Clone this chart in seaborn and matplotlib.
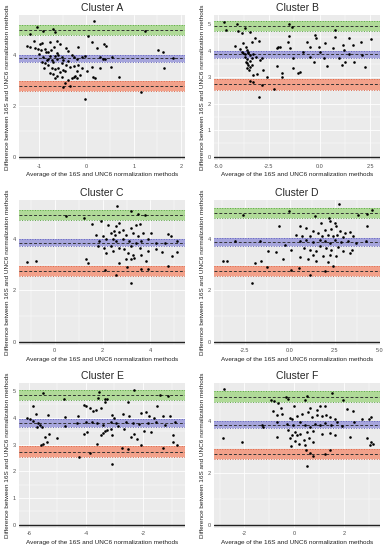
import matplotlib.pyplot as plt
import seaborn as sns
import numpy as np
import pandas as pd
from matplotlib.ticker import AutoMinorLocator

# (average, difference) pairs
cluster_a = [(0.16, 5.36), (-1.04, 5.13), (-0.71, 5.04), (-0.92, 4.97), (-0.66, 4.93), (-1.18, 4.84),
             (0.03, 4.75), (1.24, 4.97), (-1.11, 4.57), (-0.63, 4.57), (-0.94, 4.49), (-0.98, 4.43),
             (-0.77, 4.54), (0.11, 4.51), (-1.25, 4.37), (-1.19, 4.34), (0.38, 4.43), (0.41, 4.37),
             (0.22, 4.30), (-1.08, 4.28), (-1.03, 4.25), (-0.96, 4.22), (-0.87, 4.25), (-0.68, 4.33),
             (-0.42, 4.28), (-0.80, 4.14), (-0.75, 4.21), (-0.85, 4.11), (-0.17, 4.34), (-0.38, 4.17),
             (1.51, 4.21), (1.63, 4.14), (1.65, 3.51), (-0.63, 4.08), (-0.59, 4.01), (-0.66, 3.95),
             (-0.77, 3.95), (-0.80, 3.86), (-0.73, 3.80), (-0.31, 4.01), (-0.25, 3.92), (-0.20, 3.86),
             (-0.10, 3.91), (-0.03, 3.95), (0.29, 3.91), (0.36, 3.87), (0.54, 3.91), (-0.94, 3.75),
             (-0.87, 3.68), (-0.80, 3.62), (-0.52, 3.68), (-0.42, 3.62), (-0.34, 3.55), (-0.27, 3.59),
             (-0.73, 3.49), (-0.66, 3.46), (-0.59, 3.51), (-0.49, 3.42), (-0.45, 3.36), (-0.77, 3.29),
             (-0.70, 3.25), (-0.63, 3.20), (-0.17, 3.62), (-0.10, 3.49), (0.11, 3.55), (0.29, 3.51),
             (0.52, 3.53), (0.15, 3.16), (0.18, 3.09), (-0.52, 3.16), (-0.27, 3.16), (-0.24, 3.20),
             (-0.31, 3.09), (0.68, 3.16), (-0.45, 2.89), (-0.49, 2.76), (-0.34, 2.78), (1.16, 2.57),
             (-0.03, 2.28), (-0.56, 4.43), (-1.00, 4.04), (-0.91, 3.91), (-0.84, 3.82), (-0.70, 3.75),
             (-0.63, 3.84), (-0.52, 3.91), (-0.49, 3.82), (-0.38, 3.78), (-0.89, 3.49), (-0.56, 3.33),
             (-0.20, 3.36), (-0.13, 3.22), (0.01, 3.36), (-0.38, 3.03), (-0.20, 3.12), (-0.66, 3.09),
             (0.39, 3.86), (1.83, 3.90)]

cluster_b = [(-4.72, 5.09), (-4.59, 4.78), (-4.09, 4.99), (-3.68, 4.84), (-4.01, 4.74), (-3.84, 4.65),
             (-3.43, 4.72), (-1.53, 4.99), (-1.37, 4.91), (0.78, 4.78), (-4.17, 4.19), (-3.76, 4.28),
             (-3.63, 4.15), (-3.35, 4.34), (-3.18, 4.47), (-2.97, 4.36), (-3.93, 4.05), (-3.84, 3.96),
             (-3.76, 3.92), (-3.60, 4.03), (-3.51, 3.90), (-3.43, 3.84), (-3.35, 3.74), (-3.27, 3.86),
             (-3.68, 3.77), (-3.56, 3.69), (-3.14, 3.77), (-2.94, 3.65), (-2.85, 3.74), (-2.11, 4.09),
             (-2.03, 4.13), (-1.95, 4.15), (-1.58, 4.34), (-1.50, 4.57), (-1.45, 4.09), (-0.82, 3.96),
             (-1.29, 3.71), (-2.11, 3.43), (-1.86, 3.14), (-1.32, 3.33), (-1.04, 3.14), (-0.96, 3.21),
             (-1.83, 3.02), (-3.60, 3.52), (-3.51, 3.46), (-3.43, 3.40), (-3.56, 3.33), (-3.47, 3.27),
             (-3.35, 3.46), (-3.27, 3.08), (-3.10, 3.11), (-2.77, 3.27), (-2.61, 3.02), (-3.43, 2.87),
             (-3.30, 2.83), (-2.85, 2.70), (-2.23, 2.55), (-2.97, 2.25), (-0.63, 4.34), (-0.21, 4.59),
             (-0.16, 4.47), (-0.46, 4.15), (-0.05, 4.15), (0.28, 4.28), (0.03, 3.96), (-0.46, 3.77),
             (-0.30, 3.58), (0.36, 3.43), (0.20, 3.71), (0.78, 4.53), (0.66, 4.11), (1.16, 4.21),
             (1.44, 4.49), (1.19, 4.03), (0.94, 3.71), (1.11, 3.46), (1.27, 3.56), (1.63, 4.21),
             (2.06, 4.34), (2.51, 4.43), (1.72, 3.58), (2.22, 3.40), (2.08, 3.84), (1.44, 3.86),
             (-3.70, 3.88), (-3.55, 3.95), (-3.45, 3.62), (-3.62, 3.58)]

cluster_c = [(2.60, 5.33), (-1.16, 3.13), (-0.77, 3.15), (0.48, 4.91), (1.22, 4.84), (3.20, 5.10),
             (3.48, 5.01), (3.76, 4.97), (1.58, 4.62), (1.93, 4.71), (2.21, 4.58), (2.56, 4.52),
             (2.67, 4.65), (3.41, 4.58), (3.58, 4.62), (3.20, 4.45), (2.84, 4.39), (2.49, 4.32),
             (1.72, 4.19), (2.00, 4.13), (2.35, 4.26), (2.53, 4.19), (2.70, 4.28), (2.98, 4.19),
             (3.26, 4.26), (3.48, 4.13), (3.68, 4.26), (4.04, 4.26), (4.74, 4.22), (4.84, 4.13),
             (1.86, 3.93), (2.14, 4.00), (2.42, 4.02), (2.56, 3.93), (2.84, 4.02), (3.12, 3.93),
             (3.41, 3.87), (3.62, 3.93), (3.90, 4.00), (4.25, 3.87), (4.60, 3.87), (5.12, 3.93),
             (1.79, 3.74), (2.07, 3.67), (2.35, 3.76), (2.70, 3.67), (2.91, 3.61), (3.20, 3.74),
             (3.55, 3.67), (3.90, 3.54), (4.25, 3.61), (4.46, 3.50), (2.14, 3.48), (2.42, 3.54),
             (3.05, 3.48), (3.26, 3.41), (3.33, 3.28), (3.19, 3.22), (3.62, 3.41), (4.88, 3.37),
             (5.09, 3.50), (1.30, 3.22), (1.41, 3.09), (2.70, 3.09), (2.98, 3.24), (3.83, 3.15),
             (4.74, 2.96), (2.11, 2.79), (3.02, 2.93), (3.62, 2.85), (2.56, 2.59), (3.19, 2.28),
             (3.90, 2.83)]

cluster_d = [(2.74, 5.35), (4.57, 5.14), (4.31, 4.99), (-0.06, 5.08), (-2.59, 4.92), (1.43, 4.88),
             (3.83, 4.92), (-0.59, 4.49), (0.56, 4.52), (0.93, 4.43), (1.76, 4.62), (2.19, 4.82),
             (2.26, 4.69), (2.50, 4.62), (2.59, 4.49), (1.94, 4.36), (2.31, 4.39), (2.78, 4.30),
             (3.06, 4.23), (3.33, 4.26), (4.30, 4.49), (0.33, 4.17), (0.70, 4.13), (1.11, 4.10),
             (1.30, 4.30), (1.57, 4.23), (1.81, 4.13), (2.13, 4.17), (2.41, 4.10), (2.63, 4.17),
             (2.96, 4.08), (3.52, 4.10), (0.56, 3.91), (0.93, 3.95), (1.30, 3.87), (1.67, 3.97),
             (1.94, 3.91), (2.22, 3.84), (2.50, 3.95), (2.87, 3.87), (3.24, 3.91), (3.70, 3.84),
             (4.26, 3.91), (-3.06, 3.91), (-1.67, 3.91), (-0.28, 3.78), (-1.20, 3.52), (-0.74, 3.48),
             (0.09, 3.55), (0.78, 3.65), (1.11, 3.58), (1.48, 3.52), (1.67, 3.71), (2.04, 3.65),
             (2.31, 3.58), (2.69, 3.69), (2.96, 3.52), (3.33, 3.45), (3.48, 3.58), (1.30, 3.39),
             (1.85, 3.35), (2.22, 3.39), (2.59, 3.32), (0.56, 3.29), (1.02, 3.22), (1.48, 3.13),
             (2.13, 3.09), (-0.37, 3.22), (-1.57, 3.13), (-1.94, 3.06), (-3.70, 3.15), (-3.48, 3.13),
             (-1.26, 2.89), (0.09, 2.80), (0.52, 2.86), (1.94, 2.76), (2.41, 2.93), (1.11, 2.58),
             (-2.09, 2.29)]

cluster_e = [(-2.30, 5.04), (-5.52, 4.92), (-3.54, 4.97), (-4.78, 4.72), (-3.57, 4.76), (-3.33, 4.72),
             (-1.41, 4.85), (-1.12, 4.82), (-5.85, 4.45), (-4.07, 4.48), (-3.99, 4.43), (-3.87, 4.35),
             (-3.76, 4.27), (-3.64, 4.31), (-3.33, 4.58), (-3.25, 4.70), (-3.48, 4.35), (-2.54, 4.58),
             (-1.51, 4.45), (-5.76, 4.15), (-6.08, 4.00), (-5.96, 3.96), (-5.85, 3.90), (-5.34, 4.11),
             (-4.72, 4.02), (-4.27, 4.05), (-3.07, 4.11), (-3.01, 3.99), (-2.71, 4.15), (-2.48, 4.06),
             (-2.06, 4.18), (-1.89, 4.23), (-1.79, 4.08), (-1.63, 3.99), (-1.30, 4.06), (-1.04, 4.08),
             (-5.69, 3.81), (-5.61, 3.74), (-5.55, 3.65), (-5.73, 3.65), (-4.72, 3.71), (-4.31, 3.81),
             (-4.01, 3.86), (-3.78, 3.84), (-3.60, 3.81), (-3.40, 3.74), (-3.13, 3.84), (-2.95, 3.81),
             (-2.60, 3.86), (-2.36, 3.81), (-2.15, 3.78), (-1.83, 3.81), (-1.53, 3.84), (-1.24, 3.74),
             (-0.88, 3.86), (-5.31, 3.41), (-5.43, 3.28), (-5.02, 3.25), (-5.57, 3.00), (-5.49, 3.04),
             (-5.37, 3.10), (-4.05, 3.41), (-3.95, 3.47), (-3.48, 3.35), (-3.40, 3.44), (-3.33, 3.49),
             (-3.25, 3.53), (-3.13, 3.59), (-3.60, 3.04), (-3.07, 3.35), (-2.89, 3.71), (-2.66, 3.59),
             (-2.42, 3.28), (-2.30, 3.41), (-2.22, 3.22), (-1.95, 3.49), (-1.71, 3.47), (-0.94, 3.35),
             (-0.94, 3.10), (-0.80, 3.00), (-2.74, 2.88), (-2.06, 2.98), (-1.30, 2.88), (-4.25, 2.55),
             (-3.84, 2.67), (-3.10, 2.26), (-2.54, 2.85)]

cluster_f = [(-2.83, 5.22), (-2.86, 3.33), (-2.09, 3.18), (-0.93, 4.79), (-0.81, 4.75), (-0.63, 4.67),
             (-0.32, 4.92), (-0.23, 4.82), (0.44, 4.79), (0.51, 4.94), (1.52, 5.04), (1.99, 4.79),
             (-0.53, 4.47), (-0.84, 4.38), (0.00, 4.57), (0.65, 4.50), (0.94, 4.42), (1.05, 4.54),
             (1.25, 4.57), (2.15, 4.44), (2.37, 4.38), (-0.67, 4.21), (-0.50, 4.25), (-0.16, 4.09),
             (-0.09, 4.06), (0.11, 4.19), (0.31, 4.25), (0.58, 4.31), (0.71, 4.13), (0.92, 4.21),
             (1.12, 4.16), (1.29, 4.21), (1.45, 4.13), (1.66, 4.06), (2.73, 4.06), (3.10, 4.13),
             (3.00, 4.04), (-1.31, 3.84), (-1.24, 3.75), (-0.70, 3.96), (-0.30, 3.87), (-0.03, 3.81),
             (0.24, 3.94), (0.44, 3.84), (0.65, 3.75), (0.85, 3.87), (1.05, 3.81), (1.25, 3.91),
             (1.48, 3.84), (1.72, 3.94), (1.93, 3.79), (2.40, 3.94), (-0.23, 3.62), (0.04, 3.56),
             (0.24, 3.50), (-0.09, 3.46), (0.13, 3.43), (0.51, 3.56), (0.78, 3.58), (1.12, 3.50),
             (1.45, 3.53), (1.66, 3.46), (-0.70, 3.37), (-0.16, 3.31), (0.04, 3.21), (0.18, 3.08),
             (0.38, 3.25), (0.62, 3.31), (0.78, 3.18), (0.44, 3.06), (-0.12, 3.02), (2.24, 3.37),
             (2.92, 3.31), (3.10, 3.16), (3.05, 3.06), (3.18, 3.08), (0.48, 2.87), (0.65, 2.74),
             (0.78, 2.62), (1.25, 2.70), (1.45, 2.87), (0.51, 2.26)]

clusters = [cluster_a, cluster_b, cluster_c, cluster_d, cluster_e, cluster_f]
titles = ['Cluster A', 'Cluster B', 'Cluster C', 'Cluster D', 'Cluster E', 'Cluster F']

# mean difference and limits of agreement for each cluster
bias = [3.88, 3.86, 3.87, 3.88, 3.80, 3.84]
upper_loa = [5.00, 4.93, 4.97, 5.00, 4.85, 4.92]
lower_loa = [2.79, 2.73, 2.76, 2.76, 2.73, 2.72]
bias_ci = 0.14
loa_ci = 0.20

x_ticks = [[-1, 0, 1, 2], [-5, -2.5, 0, 2.5], [0, 2, 4], [-2.5, 0, 2.5, 5], [-6, -4, -2], [-2, 0, 2]]
x_labels = [['-1', '0', '1', '2'], ['-5.0', '-2.5', '0.0', '2.5'], ['0', '2', '4'],
            ['-2.5', '0.0', '2.5', '5.0'], ['-6', '-4', '-2'], ['-2', '0', '2']]
y_ticks = [[0, 2, 4], [0, 1, 2, 3, 4, 5], [0, 2, 4], [0, 2, 4], [0, 1, 2, 3, 4, 5], [0, 2, 4]]
x_lims = [(-1.42, 2.09), (-5.2, 2.99), (-1.48, 5.45), (-4.2, 5.04), (-6.34, -0.52), (-3.22, 3.47)]
y_lims = [(-0.13, 5.59), (-0.13, 5.35), (-0.13, 5.56), (-0.13, 5.53), (-0.12, 5.31), (-0.13, 5.45)]

sns.set_theme(style='darkgrid')
plt.rcParams['font.family'] = ['Liberation Sans', 'DejaVu Sans']

fig = plt.figure(figsize=(3.9, 5.5), dpi=100)

lefts = [0.049, 0.549]
bottoms = [0.709, 0.373, 0.040]

for i, pts in enumerate(clusters):
    row, col = divmod(i, 2)
    ax = fig.add_axes([lefts[col], bottoms[row], 0.426, 0.264])
    ax.set_facecolor('#EBEBEB')

    df = pd.DataFrame(pts, columns=['avg', 'diff'])

    # bands for the confidence intervals
    for centre, half, fill, edge in [(upper_loa[i], loa_ci, '#b0da98', '#5aa844'),
                                     (bias[i], bias_ci, '#a6a5dc', '#6565c0'),
                                     (lower_loa[i], loa_ci, '#f2a18a', '#dc6a4e')]:
        ax.axhspan(centre - half, centre + half, color=fill, lw=0, zorder=1)
        ax.axhline(centre - half, color=edge, ls=':', lw=0.7, zorder=2)
        ax.axhline(centre + half, color=edge, ls=':', lw=0.7, zorder=2)
        ax.axhline(centre, color='#333333', ls=(0, (3, 2)), lw=0.7, zorder=2)

    ax.axhline(0, color='#222222', lw=1.0, zorder=2)

    sns.scatterplot(data=df, x='avg', y='diff', color='black', s=3.5, linewidth=0, ax=ax, zorder=3)

    ax.set_xlim(x_lims[i])
    ax.set_ylim(y_lims[i])
    ax.set_xticks(x_ticks[i])
    ax.set_xticklabels(x_labels[i])
    ax.set_yticks(y_ticks[i])
    ax.xaxis.set_minor_locator(AutoMinorLocator(2))
    ax.yaxis.set_minor_locator(AutoMinorLocator(2))
    ax.grid(which='major', color='white', lw=0.6)
    ax.grid(which='minor', color='white', lw=0.3)
    ax.tick_params(which='major', labelsize=4, colors='#4d4d4d', length=1.5, width=0.4, pad=1)
    ax.tick_params(which='minor', length=0)
    for s in ax.spines.values():
        s.set_visible(False)

    ax.set_title(titles[i], fontsize=7.5, pad=2.5)
    ax.set_xlabel('Average of the 16S and UNC6 normalization methods', fontsize=4.6, labelpad=2.5, color='#222222')
    ax.set_ylabel('Difference between 16S and UNC6 normalization methods', fontsize=4.6, labelpad=1.5, color='#222222')

fig.savefig('out.png', dpi=100)
